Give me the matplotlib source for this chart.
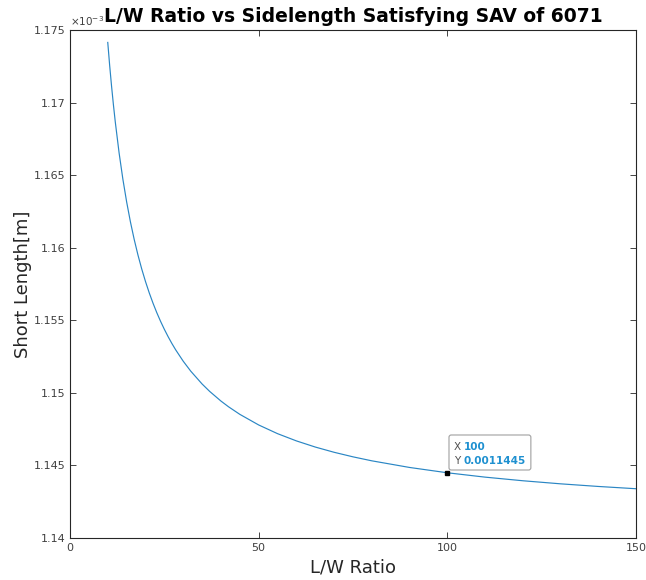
import matplotlib
matplotlib.use('Agg')
import matplotlib.pyplot as plt
from matplotlib.patches import FancyBboxPatch
from matplotlib.ticker import FuncFormatter

# L/W ratio and the short side length [m] for SAV = 6071
ratio = [10, 10.5, 11, 11.5, 12, 13, 14, 15, 16, 17, 18, 19, 20, 21, 22, 23, 24,
         25, 26, 27, 28, 30, 32, 35, 37, 40, 42, 45, 50, 55, 60, 65, 70, 75, 80,
         90, 100, 110, 120, 130, 140, 150]
short_len = [1.174143e-3, 1.172574e-3, 1.171148e-3, 1.169846e-3, 1.168652e-3,
             1.166541e-3, 1.164731e-3, 1.163162e-3, 1.161789e-3, 1.160578e-3,
             1.159501e-3, 1.158538e-3, 1.157671e-3, 1.156886e-3, 1.156174e-3,
             1.155522e-3, 1.154926e-3, 1.154377e-3, 1.153870e-3, 1.153400e-3,
             1.152965e-3, 1.152181e-3, 1.151494e-3, 1.150612e-3, 1.150103e-3,
             1.149435e-3, 1.149043e-3, 1.148520e-3, 1.147788e-3, 1.147189e-3,
             1.146690e-3, 1.146267e-3, 1.145905e-3, 1.145592e-3, 1.145317e-3,
             1.144860e-3, 1.144494e-3, 1.144194e-3, 1.143945e-3, 1.143733e-3,
             1.143552e-3, 1.143395e-3]
x_ticks = [0, 50, 100, 150]
y_ticks = [1.14e-3, 1.145e-3, 1.15e-3, 1.155e-3, 1.16e-3, 1.165e-3, 1.17e-3, 1.175e-3]
tip_x, tip_y = 100, 0.0011445

fig = plt.figure(figsize=(6.46, 5.80), dpi=100)
ax = fig.add_axes([0.1084, 0.0724, 0.8761, 0.8759])

ax.plot(ratio, short_len, color='#2A86C4', lw=0.85)
ax.set_xlim(0, 150)
ax.set_ylim(1.14e-3, 1.175e-3)
ax.set_xticks(x_ticks)
ax.set_yticks(y_ticks)
ax.yaxis.set_major_formatter(FuncFormatter(lambda v, p: '%g' % round(v * 1e3, 4)))

ax.tick_params(direction='in', top=True, right=True, length=4, width=0.6,
               colors='#262626', labelsize=8, labelcolor='#404040')
for s in ax.spines.values():
    s.set_color('#262626')
    s.set_linewidth(0.8)

ax.set_xlabel('L/W Ratio', fontsize=13, color='#262626', labelpad=4)
ax.set_ylabel('Short Length[m]', fontsize=13, color='#262626', labelpad=1)
ax.set_title('L/W Ratio vs Sidelength Satisfying SAV of 6071', fontsize=13.5,
             fontweight='bold', pad=6)
ax.text(0.0, 1.004, r'$\times10^{-3}$', transform=ax.transAxes, fontsize=7.5,
        color='#404040', ha='left', va='bottom')

# data tip at the L/W = 100 point
ax.plot([tip_x], [tip_y], 's', color='black', ms=2.5, zorder=3)
ax.add_patch(FancyBboxPatch((100.44, 1.144685e-3), 21.7, 0.002412e-3,
                            boxstyle='round,pad=0,rounding_size=0.6',
                            mutation_aspect=0.035e-3 / 150 * 566 / 508,
                            facecolor='white', edgecolor='#A0A0A0', lw=0.8,
                            zorder=2.5))
ax.text(101.8, 1.14627e-3, 'X', fontsize=7.5, color='#505050', va='center', zorder=3)
ax.text(104.3, 1.14627e-3, '%d' % tip_x, fontsize=7.5, color='#1E90D0',
        fontweight='bold', va='center', zorder=3)
ax.text(101.8, 1.145305e-3, 'Y', fontsize=7.5, color='#505050', va='center', zorder=3)
ax.text(104.3, 1.145305e-3, '%.7f' % tip_y, fontsize=7.5, color='#1E90D0',
        fontweight='bold', va='center', zorder=3)

fig.savefig('out.png', dpi=100, facecolor='white')
